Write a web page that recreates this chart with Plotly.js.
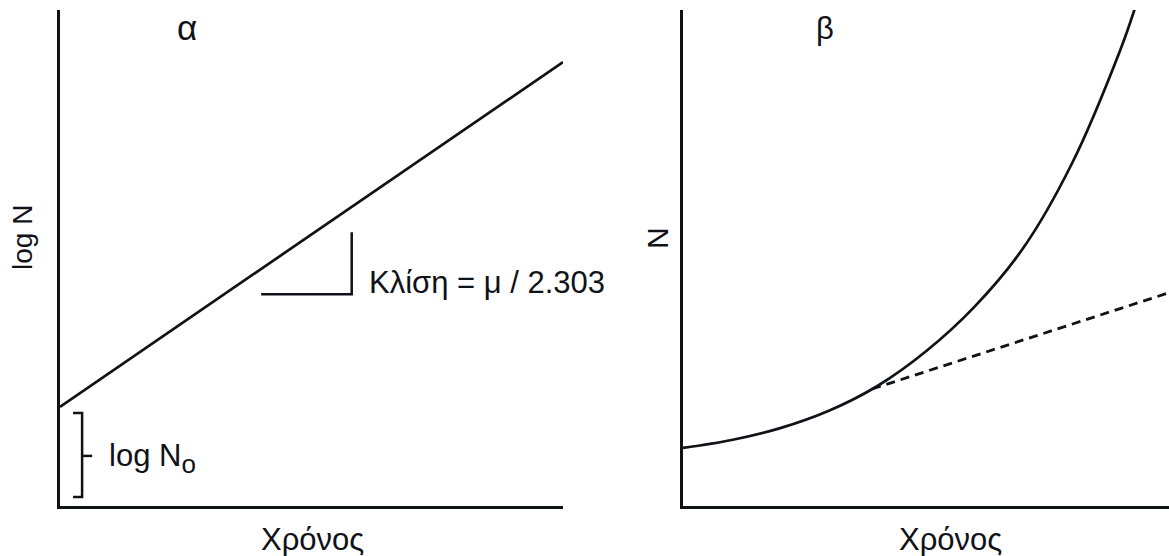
<!DOCTYPE html>
<html>
<head>
<meta charset="utf-8">
<script src="https://cdn.plot.ly/plotly-3.0.1.min.js"></script>
<style>
  html, body { margin: 0; padding: 0; background: #ffffff; }
  #chart { width: 1169px; height: 556px; }
</style>
</head>
<body>
<div id="chart"></div>
<script>
// Panel α: logarithmic plot of growth, log N against time (straight line)
const timeLog = [0, 10];
const logN = [2.0, 8.95];

// Slope triangle under the line
const slopeTriX = [4.0, 5.8, 5.8];
const slopeTriY = [4.27, 4.27, 5.52];

// Bracket marking log N0 on the y axis
const bracketX = [0.26, 0.44, 0.44, 0.26, null, 0.44, 0.64];
const bracketY = [1.875, 1.875, 0.18, 0.18, null, 1.01, 1.01];

// Panel β: arithmetic plot, N against time (exponential curve)
const timeExp = [0, 1, 2, 3, 4, 5, 6, 7, 8, 9, 9.3];
const nExp = [1.17, 1.33, 1.57, 1.92, 2.42, 3.12, 4.02, 5.2, 6.9, 9.2, 10.04];

// Dashed straight continuation from the point where it leaves the curve
const timeLin = [3.89, 10];
const nLin = [2.36, 4.30];

const ink = '#111118';
const fontFam = '"Liberation Sans", Arial, Helvetica, sans-serif';

const traces = [
  { x: timeLog, y: logN, xaxis: 'x', yaxis: 'y', mode: 'lines',
    line: { color: ink, width: 2.7 }, hoverinfo: 'skip' },
  { x: slopeTriX, y: slopeTriY, xaxis: 'x', yaxis: 'y', mode: 'lines',
    line: { color: ink, width: 2.5 }, hoverinfo: 'skip' },
  { x: bracketX, y: bracketY, xaxis: 'x', yaxis: 'y', mode: 'lines',
    line: { color: ink, width: 2.5 }, connectgaps: false, hoverinfo: 'skip' },
  { x: timeExp, y: nExp, xaxis: 'x2', yaxis: 'y2', mode: 'lines',
    line: { color: ink, width: 2.7, shape: 'spline', smoothing: 1.0 }, hoverinfo: 'skip' },
  { x: timeLin, y: nLin, xaxis: 'x2', yaxis: 'y2', mode: 'lines',
    line: { color: ink, width: 2.8, dash: '9px,6px' }, hoverinfo: 'skip' }
];

const axisBase = {
  showline: true, linecolor: ink, linewidth: 2.7,
  showgrid: false, zeroline: false, ticks: '', showticklabels: false,
  range: [0, 10], fixedrange: true
};

const txt = (size) => ({ family: fontFam, size: size, color: ink });

const layout = {
  width: 1169, height: 556,
  margin: { l: 0, r: 0, t: 0, b: 0, pad: 0 },
  paper_bgcolor: '#ffffff', plot_bgcolor: 'rgba(0,0,0,0)',
  showlegend: false,
  xaxis: Object.assign({}, axisBase, { domain: [0.0513, 0.4816], anchor: 'y' }),
  yaxis: Object.assign({}, axisBase, { domain: [0.0899, 0.982], anchor: 'x' }),
  xaxis2: Object.assign({}, axisBase, { domain: [0.5843, 1.0], anchor: 'y2' }),
  yaxis2: Object.assign({}, axisBase, { domain: [0.0899, 0.982], anchor: 'x2' }),
  annotations: [
    { text: 'α', xref: 'paper', yref: 'paper', x: 0.160, y: 0.950,
      xanchor: 'center', yanchor: 'middle', showarrow: false, font: txt(35) },
    { text: 'β', xref: 'paper', yref: 'paper', x: 0.706, y: 0.948,
      xanchor: 'center', yanchor: 'middle', showarrow: false, font: txt(31) },
    { text: 'log N', xref: 'paper', yref: 'paper', x: 0.0197, y: 0.572,
      xanchor: 'center', yanchor: 'middle', textangle: -90, showarrow: false, font: txt(28) },
    { text: 'N', xref: 'paper', yref: 'paper', x: 0.563, y: 0.572,
      xanchor: 'center', yanchor: 'middle', textangle: -90, showarrow: false, font: txt(30) },
    { text: 'Χρόνος', xref: 'paper', yref: 'paper', x: 312 / 1169, y: 0.0288,
      xanchor: 'center', yanchor: 'middle', showarrow: false, font: txt(31) },
    { text: 'Χρόνος', xref: 'paper', yref: 'paper', x: 950 / 1169, y: 0.0288,
      xanchor: 'center', yanchor: 'middle', showarrow: false, font: txt(31) },
    { text: 'Κλίση = μ / 2.303', xref: 'x', yref: 'y', x: 6.10, y: 4.50,
      xanchor: 'left', yanchor: 'middle', showarrow: false, font: txt(31) },
    { text: 'log N<sub><span style="font-size:26px">o</span></sub>', xref: 'x', yref: 'y', x: 0.93, y: 0.95,
      xanchor: 'left', yanchor: 'middle', showarrow: false, font: txt(31) }
  ]
};

Plotly.newPlot('chart', traces, layout, { staticPlot: true, displayModeBar: false });
</script>
</body>
</html>
